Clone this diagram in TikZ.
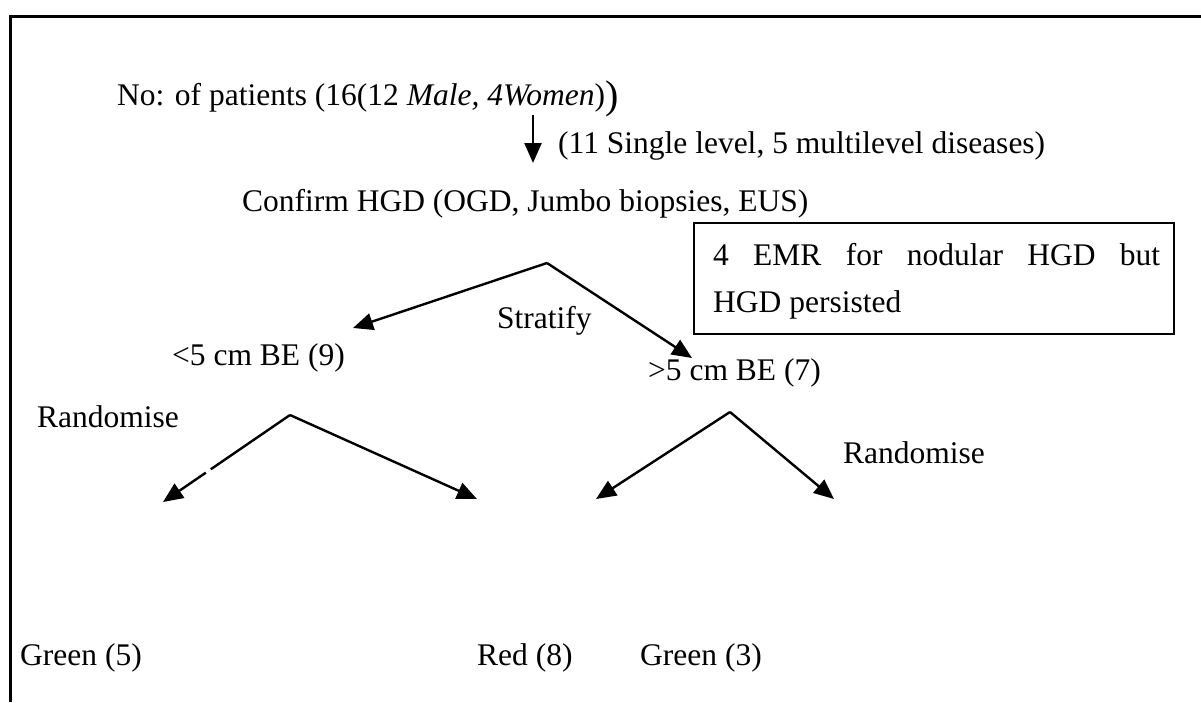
\documentclass[tikz,border=0pt]{standalone}
\usepackage{fontspec}
\setmainfont{Liberation Serif}
\usetikzlibrary{arrows.meta}
\begin{document}
\begin{tikzpicture}[x=1pt,y=-1pt,
  lbl/.style={inner sep=0pt,anchor=west,font=\fontsize{31.5}{38}\selectfont},
  conn/.style={line width=2.4pt,-{Triangle[length=20pt,width=17pt]}},
  frameline/.style={line width=3pt}]
\useasboundingbox (0,0) rectangle (1201,702);
% frame
\coordinate (fTL) at (10,16);
\coordinate (fTR) at (1201,16);
\coordinate (fBL) at (10,702);
\draw[frameline] (fBL) -- (fTL) -- (fTR);
% texts
\node[lbl] (pat) at (117,99) {No: of patients (16(12 \textit{Male, 4Women})\raisebox{-3pt}{\fontsize{40}{40}\selectfont)}};
\node[lbl] (lvl) at (558,146) {(11 Single level, 5 multilevel diseases)};
\node[lbl] (conf) at (242,204) {Confirm HGD (OGD, Jumbo biopsies, EUS)};
\node[draw,line width=2pt,inner sep=0pt,minimum width=480pt,minimum height=111pt,anchor=north west] (emr) at (693,222) {};
\node[inner sep=0pt,anchor=north west,font=\fontsize{31.5}{47}\selectfont] (emrtxt) at (713,243)
  {\parbox{447pt}{\fontsize{31.5}{47}\selectfont\makebox[447pt][s]{4 EMR for nodular HGD but}\\HGD persisted}};
\node[lbl] (strat) at (497,321) {Stratify};
\node[lbl] (lt5) at (172,358) {<5 cm BE (9)};
\node[lbl] (gt5) at (648,373) {>5 cm BE (7)};
\node[lbl] (randL) at (37,417) {Randomise};
\node[lbl] (randR) at (843,453) {Randomise};
\node[lbl] (g5) at (20,658) {Green (5)};
\node[lbl] (r8) at (477,658) {Red (8)};
\node[lbl] (g3) at (640,658) {Green (3)};
% connector points
\coordinate (a0) at (533,115);
\coordinate (a1) at (533,163);
\coordinate (s0) at (547,263);
\coordinate (sL) at (353,328);
\coordinate (sR) at (692,358);
\coordinate (l0) at (290,415);
\coordinate (lL) at (163,502);
\coordinate (lR) at (477,499);
\coordinate (r0) at (730,412);
\coordinate (rL) at (596,499);
\coordinate (rR) at (834,499);
% connectors
\draw[conn] (a0) -- (a1);
\draw[conn] (s0) -- (sL);
\draw[conn] (s0) -- (sR);
\draw[conn,dash pattern=on 96pt off 6pt on 300pt] (l0) -- (lL);
\draw[conn] (l0) -- (lR);
\draw[conn] (r0) -- (rL);
\draw[conn] (r0) -- (rR);
\end{tikzpicture}
\end{document}
